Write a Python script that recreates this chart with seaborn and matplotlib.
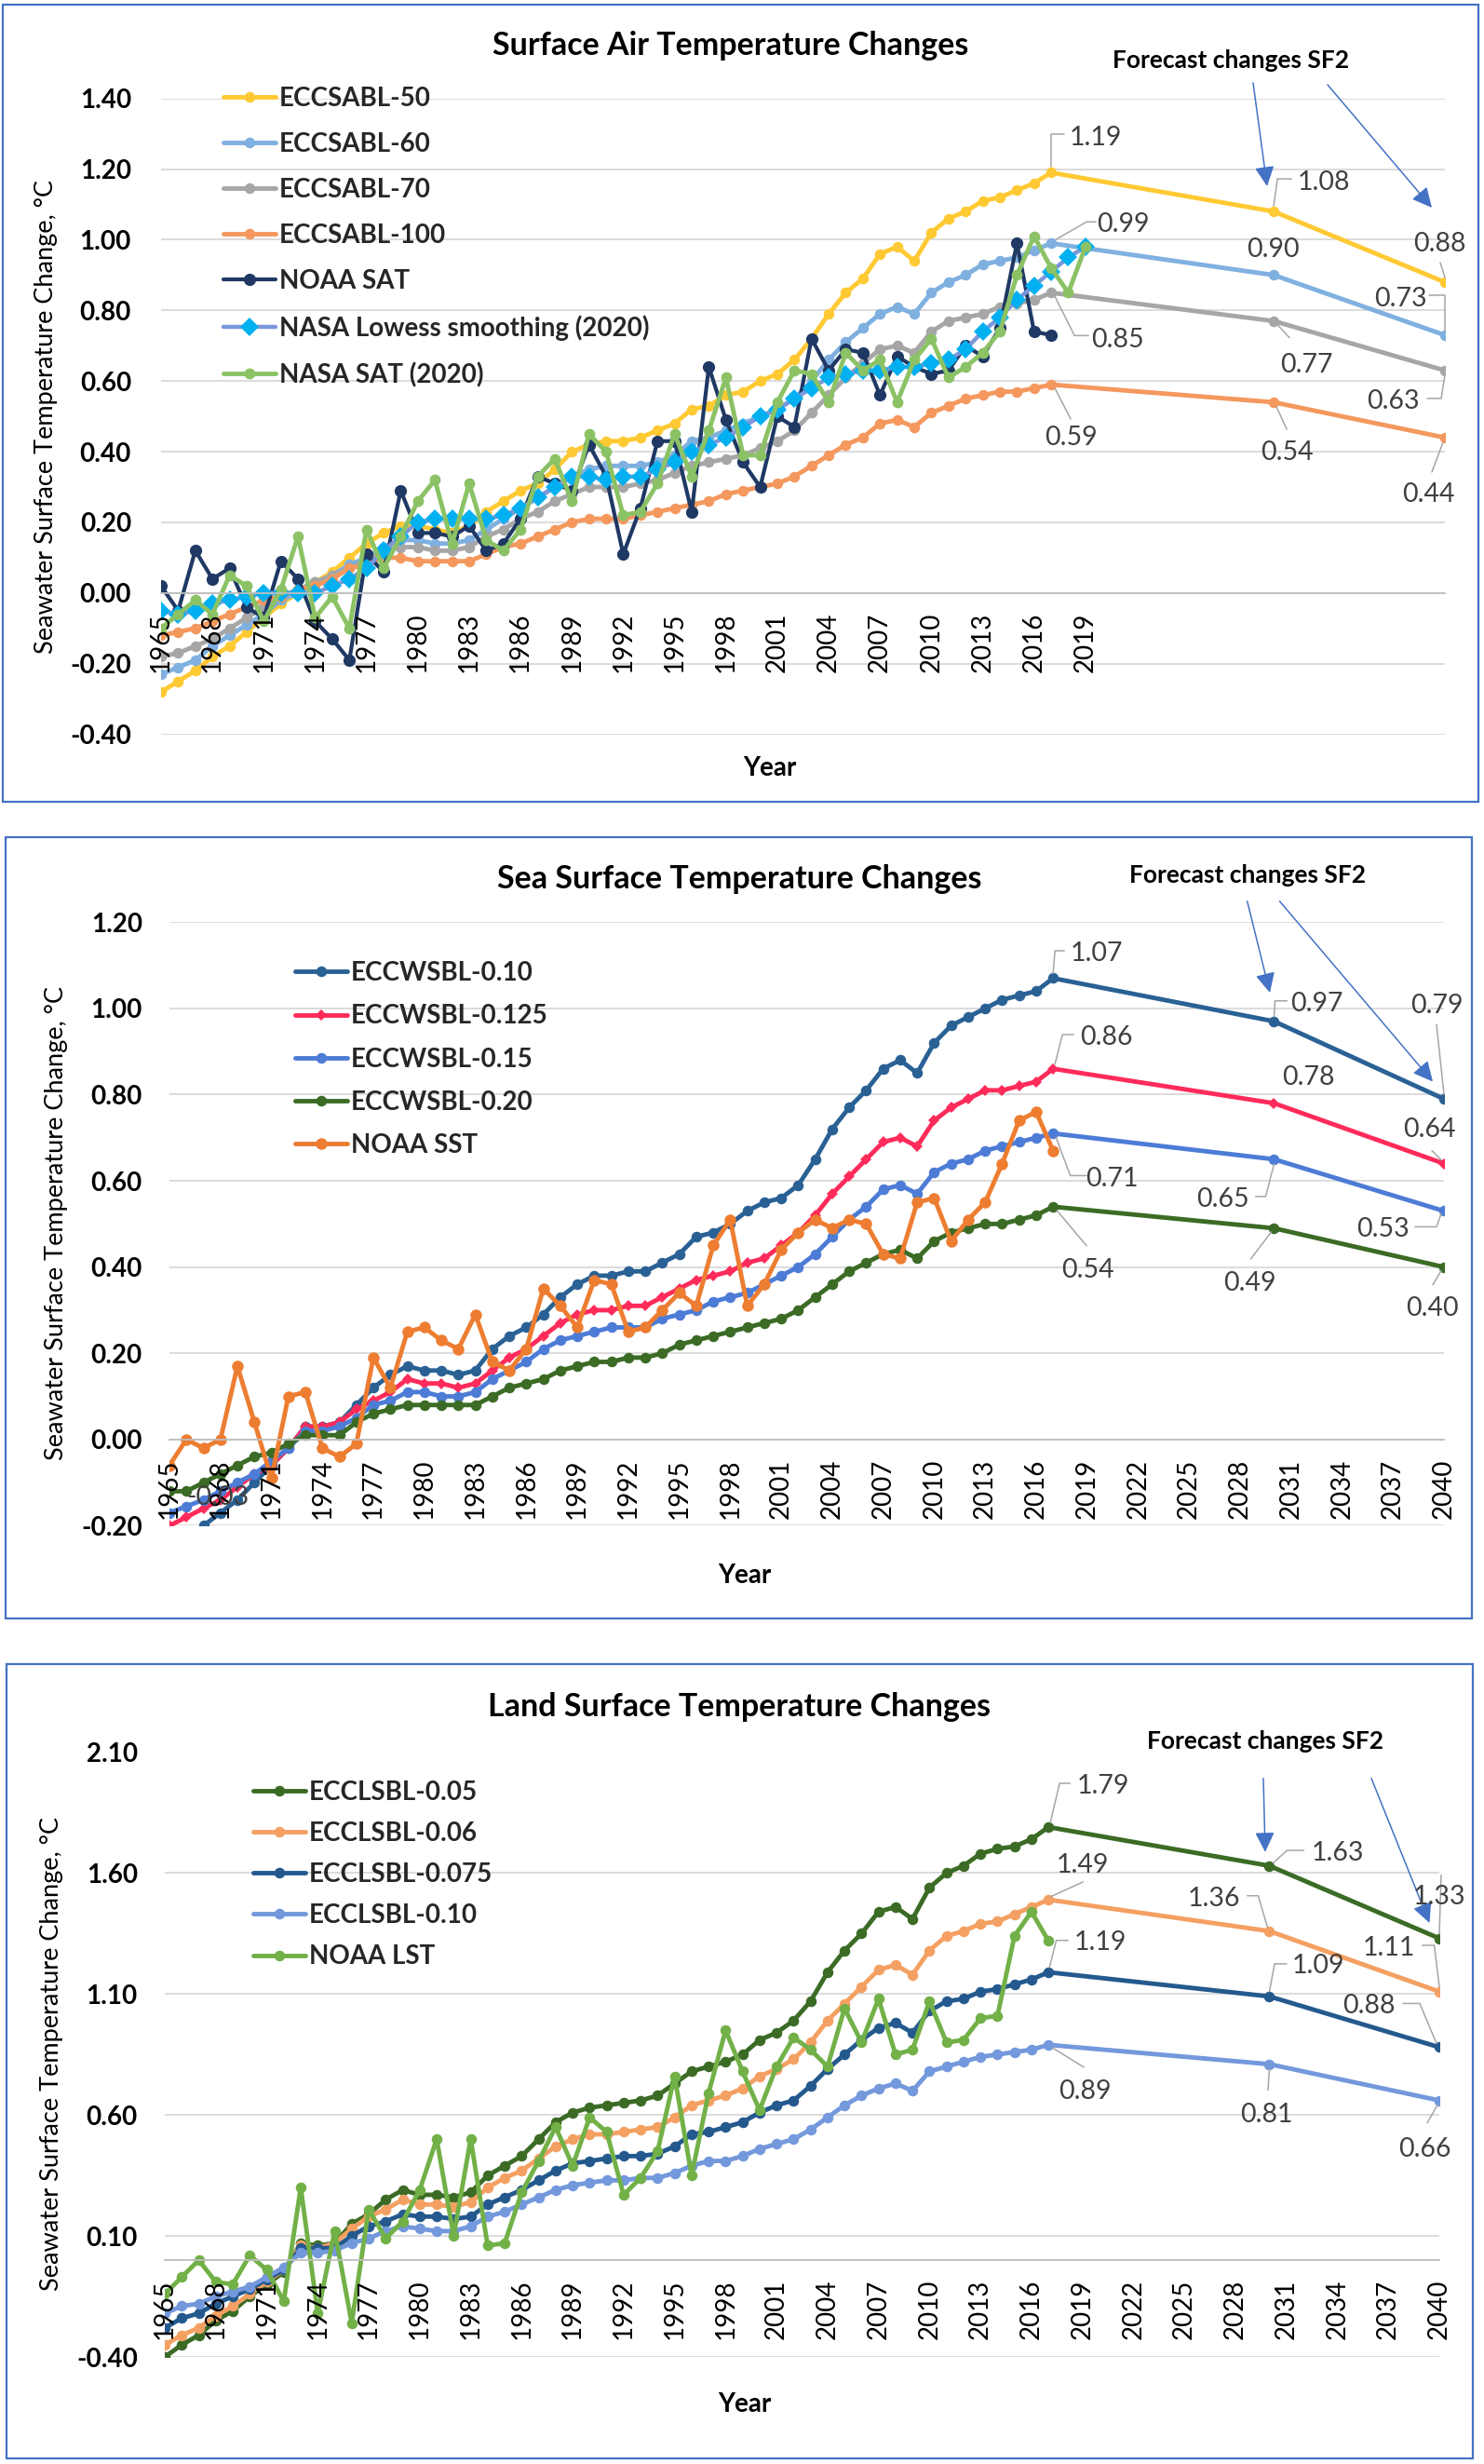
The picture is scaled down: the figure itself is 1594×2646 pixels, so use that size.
import numpy as np
import matplotlib
matplotlib.use("Agg")
import matplotlib.pyplot as plt
import seaborn as sns
from matplotlib.lines import Line2D
from matplotlib.patches import Rectangle, FancyArrowPatch

W, H = 1594, 2646
sns.set_theme(style="white")
plt.rcParams["font.family"] = ["Lato", "DejaVu Sans"]

# ------------------------------------------------------------------ data
hist_years = list(range(1965, 2018))          # 1965..2017
model_years = hist_years + [2030, 2040]
nasa_years = list(range(1965, 2020))          # 1965..2019

# --- Surface air temperature
sat_50 = [-0.28, -0.25, -0.22, -0.18, -0.15, -0.11, -0.07, -0.03, 0.00, 0.03, 0.06, 0.10, 0.14, 0.17, 0.19,
          0.19, 0.18, 0.17, 0.19, 0.23, 0.26, 0.29, 0.31, 0.35, 0.40, 0.42, 0.43, 0.43, 0.44, 0.46, 0.48, 0.52,
          0.53, 0.56, 0.57, 0.60, 0.62, 0.66, 0.72, 0.79, 0.85, 0.89, 0.96, 0.98, 0.94, 1.02, 1.06, 1.08, 1.11,
          1.12, 1.14, 1.16, 1.19, 1.08, 0.88]
sat_60 = [-0.23, -0.21, -0.19, -0.15, -0.12, -0.09, -0.06, -0.02, 0.00, 0.03, 0.05, 0.08, 0.10, 0.13, 0.15,
          0.15, 0.14, 0.14, 0.15, 0.18, 0.21, 0.24, 0.27, 0.30, 0.33, 0.35, 0.36, 0.36, 0.36, 0.37, 0.39, 0.43,
          0.44, 0.46, 0.48, 0.50, 0.52, 0.55, 0.60, 0.66, 0.71, 0.75, 0.79, 0.81, 0.79, 0.85, 0.88, 0.90, 0.93,
          0.94, 0.95, 0.97, 0.99, 0.90, 0.73]
sat_70 = [-0.18, -0.17, -0.15, -0.13, -0.10, -0.07, -0.04, -0.01, 0.01, 0.03, 0.05, 0.07, 0.09, 0.12, 0.13,
          0.13, 0.12, 0.12, 0.13, 0.16, 0.18, 0.21, 0.23, 0.26, 0.28, 0.30, 0.30, 0.30, 0.31, 0.32, 0.34, 0.36,
          0.37, 0.38, 0.39, 0.41, 0.43, 0.46, 0.51, 0.56, 0.61, 0.65, 0.69, 0.70, 0.68, 0.74, 0.77, 0.78, 0.79,
          0.81, 0.82, 0.83, 0.85, 0.77, 0.63]
sat_100 = [-0.12, -0.11, -0.10, -0.08, -0.06, -0.04, -0.02, -0.01, 0.01, 0.02, 0.04, 0.07, 0.08, 0.10, 0.10,
           0.09, 0.09, 0.09, 0.09, 0.11, 0.13, 0.14, 0.16, 0.18, 0.20, 0.21, 0.21, 0.21, 0.22, 0.23, 0.24, 0.25,
           0.26, 0.28, 0.29, 0.30, 0.31, 0.33, 0.36, 0.39, 0.42, 0.44, 0.48, 0.49, 0.47, 0.51, 0.53, 0.55, 0.56,
           0.57, 0.57, 0.58, 0.59, 0.54, 0.44]
noaa_sat = [0.02, -0.05, 0.12, 0.04, 0.07, -0.04, -0.07, 0.09, 0.04, -0.08, -0.13, -0.19, 0.11, 0.06, 0.29,
            0.17, 0.17, 0.16, 0.19, 0.12, 0.14, 0.21, 0.33, 0.31, 0.29, 0.42, 0.33, 0.11, 0.24, 0.43, 0.43, 0.23,
            0.64, 0.49, 0.37, 0.30, 0.50, 0.47, 0.72, 0.63, 0.69, 0.68, 0.56, 0.67, 0.64, 0.62, 0.63, 0.70, 0.67,
            0.75, 0.99, 0.74, 0.73]
nasa_lowess = [-0.05, -0.06, -0.05, -0.03, -0.02, -0.01, 0.00, 0.00, 0.00, 0.00, 0.02, 0.04, 0.07, 0.12, 0.16,
               0.20, 0.21, 0.21, 0.21, 0.21, 0.22, 0.24, 0.27, 0.30, 0.33, 0.33, 0.32, 0.33, 0.33, 0.35, 0.37,
               0.40, 0.42, 0.44, 0.47, 0.50, 0.52, 0.55, 0.58, 0.61, 0.62, 0.63, 0.63, 0.64, 0.64, 0.65, 0.66,
               0.69, 0.74, 0.78, 0.83, 0.87, 0.91, 0.95, 0.98]
nasa_sat = [-0.10, -0.06, -0.02, -0.06, 0.05, 0.02, -0.08, 0.01, 0.16, -0.07, -0.01, -0.10, 0.18, 0.07, 0.16,
            0.26, 0.32, 0.14, 0.31, 0.15, 0.12, 0.18, 0.33, 0.38, 0.26, 0.45, 0.40, 0.22, 0.23, 0.31, 0.45, 0.33,
            0.46, 0.61, 0.39, 0.39, 0.54, 0.63, 0.62, 0.54, 0.68, 0.63, 0.66, 0.54, 0.66, 0.72, 0.61, 0.64, 0.68,
            0.74, 0.90, 1.01, 0.92, 0.85, 0.98]

# --- Sea surface temperature
sst_010 = [-0.26, -0.23, -0.20, -0.17, -0.14, -0.10, -0.06, -0.02, 0.03, 0.03, 0.04, 0.08, 0.12, 0.15, 0.17,
           0.16, 0.16, 0.15, 0.16, 0.21, 0.24, 0.26, 0.29, 0.33, 0.36, 0.38, 0.38, 0.39, 0.39, 0.41, 0.43, 0.47,
           0.48, 0.50, 0.53, 0.55, 0.56, 0.59, 0.65, 0.72, 0.77, 0.81, 0.86, 0.88, 0.85, 0.92, 0.96, 0.98, 1.00,
           1.02, 1.03, 1.04, 1.07, 0.97, 0.79]
sst_0125 = [-0.20, -0.18, -0.16, -0.14, -0.11, -0.08, -0.06, -0.02, 0.03, 0.03, 0.04, 0.07, 0.09, 0.11, 0.14,
            0.13, 0.13, 0.12, 0.13, 0.16, 0.19, 0.21, 0.24, 0.27, 0.29, 0.30, 0.30, 0.31, 0.31, 0.33, 0.35, 0.37,
            0.38, 0.39, 0.41, 0.42, 0.45, 0.48, 0.52, 0.57, 0.61, 0.65, 0.69, 0.70, 0.68, 0.74, 0.77, 0.79, 0.81,
            0.81, 0.82, 0.83, 0.86, 0.78, 0.64]
sst_015 = [-0.17, -0.155, -0.14, -0.12, -0.10, -0.08, -0.05, -0.02, 0.02, 0.02, 0.03, 0.05, 0.08, 0.09, 0.11,
           0.11, 0.10, 0.10, 0.11, 0.14, 0.16, 0.18, 0.21, 0.23, 0.24, 0.25, 0.26, 0.26, 0.26, 0.28, 0.29, 0.30,
           0.32, 0.33, 0.34, 0.36, 0.38, 0.40, 0.43, 0.47, 0.51, 0.54, 0.58, 0.59, 0.57, 0.62, 0.64, 0.65, 0.67,
           0.68, 0.69, 0.70, 0.71, 0.65, 0.53]
sst_020 = [-0.12, -0.12, -0.10, -0.08, -0.06, -0.04, -0.03, -0.01, 0.01, 0.01, 0.01, 0.04, 0.06, 0.07, 0.08,
           0.08, 0.08, 0.08, 0.08, 0.10, 0.12, 0.13, 0.14, 0.16, 0.17, 0.18, 0.18, 0.19, 0.19, 0.20, 0.22, 0.23,
           0.24, 0.25, 0.26, 0.27, 0.28, 0.30, 0.33, 0.36, 0.39, 0.41, 0.43, 0.44, 0.42, 0.46, 0.48, 0.49, 0.50,
           0.50, 0.51, 0.52, 0.54, 0.49, 0.40]
noaa_sst = [-0.06, 0.00, -0.02, 0.00, 0.17, 0.04, -0.09, 0.10, 0.11, -0.02, -0.04, -0.01, 0.19, 0.12, 0.25,
            0.26, 0.23, 0.21, 0.29, 0.18, 0.16, 0.21, 0.35, 0.31, 0.26, 0.37, 0.36, 0.25, 0.26, 0.30, 0.34, 0.31,
            0.45, 0.51, 0.31, 0.36, 0.44, 0.48, 0.51, 0.49, 0.51, 0.50, 0.43, 0.42, 0.55, 0.56, 0.46, 0.51, 0.55,
            0.64, 0.74, 0.76, 0.67]

# --- Land surface temperature
lst_005 = [-0.40, -0.35, -0.31, -0.25, -0.21, -0.15, -0.10, -0.05, 0.07, 0.06, 0.07, 0.15, 0.19, 0.25, 0.29,
           0.27, 0.27, 0.26, 0.28, 0.35, 0.39, 0.43, 0.50, 0.57, 0.61, 0.63, 0.64, 0.65, 0.66, 0.68, 0.73, 0.78,
           0.80, 0.82, 0.85, 0.91, 0.94, 0.99, 1.07, 1.19, 1.28, 1.35, 1.44, 1.46, 1.41, 1.54, 1.60, 1.63, 1.68,
           1.70, 1.71, 1.74, 1.79, 1.63, 1.33]
lst_006 = [-0.35, -0.31, -0.28, -0.23, -0.19, -0.14, -0.09, -0.04, 0.06, 0.05, 0.07, 0.13, 0.18, 0.21, 0.25,
           0.23, 0.23, 0.22, 0.24, 0.30, 0.34, 0.37, 0.42, 0.47, 0.50, 0.52, 0.52, 0.53, 0.54, 0.55, 0.59, 0.64,
           0.66, 0.68, 0.71, 0.76, 0.79, 0.83, 0.90, 0.99, 1.06, 1.13, 1.20, 1.22, 1.18, 1.28, 1.34, 1.36, 1.39,
           1.40, 1.43, 1.46, 1.49, 1.36, 1.11]
lst_0075 = [-0.28, -0.24, -0.22, -0.18, -0.15, -0.12, -0.08, -0.04, 0.05, 0.05, 0.05, 0.10, 0.14, 0.16, 0.19,
            0.18, 0.18, 0.17, 0.18, 0.23, 0.26, 0.29, 0.33, 0.37, 0.40, 0.41, 0.42, 0.43, 0.43, 0.44, 0.47, 0.52,
            0.53, 0.55, 0.57, 0.61, 0.64, 0.66, 0.72, 0.79, 0.85, 0.91, 0.96, 0.98, 0.94, 1.03, 1.07, 1.08, 1.11,
            1.12, 1.14, 1.16, 1.19, 1.09, 0.88]
lst_010 = [-0.22, -0.19, -0.18, -0.15, -0.13, -0.11, -0.07, -0.03, 0.03, 0.03, 0.04, 0.07, 0.09, 0.12, 0.14,
           0.13, 0.12, 0.12, 0.14, 0.18, 0.20, 0.23, 0.26, 0.29, 0.31, 0.32, 0.33, 0.33, 0.34, 0.34, 0.36, 0.39,
           0.41, 0.41, 0.43, 0.46, 0.48, 0.50, 0.54, 0.59, 0.64, 0.68, 0.71, 0.73, 0.70, 0.78, 0.80, 0.82, 0.84,
           0.85, 0.86, 0.87, 0.89, 0.81, 0.66]
noaa_lst = [-0.14, -0.07, 0.00, -0.09, -0.10, 0.02, -0.04, -0.17, 0.30, -0.22, 0.12, -0.26, 0.21, 0.09, 0.16,
            0.29, 0.50, 0.10, 0.50, 0.06, 0.07, 0.28, 0.41, 0.55, 0.39, 0.59, 0.53, 0.27, 0.34, 0.45, 0.76, 0.35,
            0.69, 0.95, 0.78, 0.62, 0.80, 0.92, 0.87, 0.80, 1.04, 0.90, 1.08, 0.85, 0.87, 1.07, 0.90, 0.91, 1.00,
            1.01, 1.34, 1.44, 1.32]

# ------------------------------------------------------------------ figure
fig = plt.figure(figsize=(W / 100, H / 100), dpi=100)
fig.patch.set_facecolor("white")

TICK_FS = 20
LEG_FS = 20
LAB_FS = 20.5
BORDER = "#4472C4"
GRID = "#D9D9D9"


def add_px_axes(x0, y0, x1, y1):
    return fig.add_axes([x0 / W, 1 - y1 / H, (x1 - x0) / W, (y1 - y0) / H])


def ftext(x, y, s, **kw):
    fig.text(x / W, 1 - y / H, s, **kw)


def farrow(x0, y0, x1, y1):
    fig.add_artist(FancyArrowPatch((x0 / W, 1 - y0 / H), (x1 / W, 1 - y1 / H), transform=fig.transFigure,
                                   arrowstyle="-|>,head_length=0.65,head_width=0.32", mutation_scale=20,
                                   lw=1.1, color=BORDER, shrinkA=0, shrinkB=0))


def panel(cfg):
    x0, y0, x1, y1 = cfg["box"]
    fig.add_artist(Rectangle((x0 / W, 1 - y1 / H), (x1 - x0) / W, (y1 - y0) / H, transform=fig.transFigure,
                             fill=False, edgecolor=BORDER, lw=1.6))
    ax = add_px_axes(*cfg["plot"])
    ax.patch.set_alpha(0)
    ymin, ymax = cfg["ylim"]
    yt = cfg["yticks"]
    for t in yt:
        ax.axhline(t, color=GRID, lw=1.3, zorder=0.3)
    for s in cfg["series"]:
        kw = dict(color=s["color"], marker=s["marker"], markersize=s["ms"], linewidth=s["lw"],
                  markeredgewidth=0, label=s["label"], zorder=2)
        if "mfc" in s:
            kw["markerfacecolor"] = s["mfc"]
            kw["markeredgecolor"] = s["mfc"]
        sns.lineplot(x=s["x"], y=s["y"], ax=ax, errorbar=None, **kw)
    ax.set_xlim(1965, 2040)
    ax.set_ylim(ymin, ymax)
    ax.set_yticks(yt)
    ax.set_yticklabels([f"{t:.2f}" for t in yt])
    maj = list(range(1965, 2041, 3))
    ax.set_xticks(maj)
    ax.set_xticklabels([str(y) if y <= cfg["last_label"] else "" for y in maj])
    ax.set_xticks(list(range(1965, 2040, 2)), minor=True)
    ax.xaxis.remove_overlapping_locs = False
    ax.tick_params(axis="x", which="major", length=0, pad=15, labelsize=TICK_FS, labelrotation=90,
                   colors="black")
    ax.tick_params(axis="x", which="minor", length=7, width=1.3, color="#BFBFBF", direction="out")
    ax.tick_params(axis="y", length=0, pad=cfg["ypad"], labelsize=TICK_FS, colors="black")
    for tl in ax.get_xticklabels() + ax.get_yticklabels():
        tl.set_fontweight("bold")
    for sp in ("left", "right", "top"):
        ax.spines[sp].set_visible(False)
    ax.spines["bottom"].set_position(("data", 0))
    ax.spines["bottom"].set_color("#BFBFBF")
    ax.spines["bottom"].set_linewidth(1.3)
    ax.set_axisbelow(False)
    ax.grid(False)
    ax.set_xlabel("")
    ax.set_ylabel("")
    lx, ly, ls = cfg["legend"]
    ax.legend(loc="upper left", bbox_to_anchor=(lx / W, 1 - ly / H), bbox_transform=fig.transFigure,
              frameon=False, prop={"weight": "bold", "size": LEG_FS}, handlelength=2.0,
              handletextpad=0.15, labelspacing=ls, borderpad=0, borderaxespad=0, numpoints=1)

    # texts
    tx, ty = cfg["title_pos"]
    ftext(tx, ty, cfg["title"], ha="center", va="center", fontsize=24.5, fontweight="bold", color="black")
    yx, yy = cfg["ylabel_pos"]
    ftext(yx, yy, "Seawater Surface Temperature Change, \u00b0C", ha="center", va="center", rotation=90,
          fontsize=19.5, color="black")
    xx, xy = cfg["xlabel_pos"]
    ftext(xx, xy, "Year", ha="center", va="center", fontsize=20, fontweight="bold", color="black")
    fx_, fy_ = cfg["fc_pos"]
    ftext(fx_, fy_, "Forecast changes SF2", ha="center", va="center", fontsize=19, fontweight="bold",
          color="black")
    for a in cfg["arrows"]:
        farrow(*a)

    # data labels from the series values
    for si, yr, toff, loffs in cfg["labels"]:
        s = cfg["series"][si]
        val = s["y"][s["x"].index(yr)]
        px, py = ax.transData.transform((yr, val))
        fig.text((px + toff[0]) / W, (py - toff[1]) / H, f"{val:.2f}", ha="center", va="center_baseline",
                 fontsize=LAB_FS, color="#404040")
        if loffs:
            xs = [(px + dx) / W for dx, dy in loffs]
            ys = [(py - dy) / H for dx, dy in loffs]
            fig.add_artist(Line2D(xs, ys, transform=fig.transFigure, color="#A6A6A6", lw=1.1))
    return ax


MS = 8.3
LW = 3.5

top = dict(
    box=(3, 5, 1588, 861), plot=(173, 105.7, 1552, 788.6), ylim=(-0.40, 1.40),
    yticks=[-0.4, -0.2, 0.0, 0.2, 0.4, 0.6, 0.8, 1.0, 1.2, 1.4], ypad=23, last_label=2019,
    series=[
        dict(label="ECCSABL-50", x=model_years, y=sat_50, color="#FFC933", marker="o", ms=MS, lw=LW),
        dict(label="ECCSABL-60", x=model_years, y=sat_60, color="#7FB0E0", marker="o", ms=MS, lw=LW),
        dict(label="ECCSABL-70", x=model_years, y=sat_70, color="#A6A6A6", marker="o", ms=MS, lw=LW),
        dict(label="ECCSABL-100", x=model_years, y=sat_100, color="#F4985E", marker="o", ms=MS, lw=LW),
        dict(label="NOAA SAT", x=hist_years, y=noaa_sat, color="#1F3864", marker="o", ms=9.5, lw=3.0),
        dict(label="NASA Lowess smoothing (2020)", x=nasa_years, y=nasa_lowess, color="#7A97DA",
             marker="D", ms=10, lw=3.2, mfc="#00B0F0"),
        dict(label="NASA SAT (2020)", x=nasa_years, y=nasa_sat, color="#8BC265", marker="o", ms=8.5, lw=LW),
    ],
    legend=(240, 93, 0.83),
    title="Surface Air Temperature Changes", title_pos=(785, 49),
    ylabel_pos=(50, 447), xlabel_pos=(827, 825), fc_pos=(1322, 65),
    arrows=[(1346, 89, 1361, 200), (1426, 91, 1538, 223)],
    labels=[
        (0, 2017, (48, -40), [(0, -6), (0, -41), (14, -41)]),
        (0, 2030, (54, -33.6), [(0, -6), (4, -35), (19, -35)]),
        (0, 2040, (-6, -43), [(0, -5), (-5, -21)]),
        (1, 2017, (77, -23), [(5, -4), (38, -23), (48, -23)]),
        (1, 2030, (-1, -30), []),
        (1, 2040, (-48, -41), [(0, -5), (0, -43), (-17, -43)]),
        (2, 2017, (71, 48), [(4, 4), (25, 46), (40, 46)]),
        (2, 2030, (35, 45), [(4, 4), (17, 18)]),
        (2, 2040, (-55.5, 31), [(0, 5), (-4, 30), (-19, 30)]),
        (3, 2017, (21, 54), [(4, 4), (21, 37)]),
        (3, 2030, (14, 51.5), [(3, 5), (14, 29)]),
        (3, 2040, (-18, 58.6), [(-2, 5), (-14, 37)]),
    ],
)

mid = dict(
    box=(6, 899, 1581, 1738), plot=(182, 990.3, 1551, 1638.4), ylim=(-0.20, 1.20),
    yticks=[-0.2, 0.0, 0.2, 0.4, 0.6, 0.8, 1.0, 1.2], ypad=21, last_label=2040,
    series=[
        dict(label="ECCWSBL-0.10", x=model_years, y=sst_010, color="#2A6195", marker="o", ms=MS, lw=LW),
        dict(label="ECCWSBL-0.125", x=model_years, y=sst_0125, color="#FF2B5A", marker="D", ms=6, lw=LW),
        dict(label="ECCWSBL-0.15", x=model_years, y=sst_015, color="#4D7CD6", marker="o", ms=MS, lw=LW),
        dict(label="ECCWSBL-0.20", x=model_years, y=sst_020, color="#3B6B25", marker="o", ms=MS, lw=LW),
        dict(label="NOAA SST", x=hist_years, y=noaa_sst, color="#ED7D31", marker="o", ms=9, lw=LW),
    ],
    legend=(317, 1032, 0.73),
    title="Sea Surface Temperature Changes", title_pos=(794, 944),
    ylabel_pos=(61, 1314), xlabel_pos=(800, 1692), fc_pos=(1340, 940),
    arrows=[(1339.7, 967.8, 1364, 1066), (1374.5, 967.8, 1539, 1161.5)],
    labels=[
        (0, 2017, (47, -28.5), [(0, -5), (2, -29.5), (12, -29.5)]),
        (0, 2030, (46, -21), [(0, -5), (1, -22), (14, -22)]),
        (0, 2040, (-8, -103), [(0, -5), (-8, -80)]),
        (1, 2017, (57.4, -35.7), [(2, -5), (10, -36.7), (22, -36.7)]),
        (1, 2030, (37, -30), []),
        (1, 2040, (-15.6, -38.8), [(-3, -4), (-13, -14)]),
        (2, 2017, (63, 46.4), [(3, 4), (18.5, 45.3), (36, 45.3)]),
        (2, 2030, (-54.7, 41), [(0, 5), (-9, 40), (-20, 40)]),
        (2, 2040, (-66, 17), [(-3, 3), (-8, 17), (-31, 17)]),
        (3, 2017, (37, 66), [(4, 4), (36, 42)]),
        (3, 2030, (-26.4, 57), [(-3, 4), (-25, 33)]),
        (3, 2040, (-13, 42), [(-3, 4), (-12, 19)]),
        (3, 1971, (-57.5, 46), []),
    ],
)

bot = dict(
    box=(7, 1787, 1582, 2640), plot=(177, 1881.5, 1546, 2531), ylim=(-0.40, 2.10),
    yticks=[-0.4, 0.1, 0.6, 1.1, 1.6, 2.1], ypad=21, last_label=2040,
    series=[
        dict(label="ECCLSBL-0.05", x=model_years, y=lst_005, color="#3B6B25", marker="o", ms=MS, lw=LW),
        dict(label="ECCLSBL-0.06", x=model_years, y=lst_006, color="#F4A062", marker="o", ms=MS, lw=LW),
        dict(label="ECCLSBL-0.075", x=model_years, y=lst_0075, color="#24598E", marker="o", ms=MS, lw=LW),
        dict(label="ECCLSBL-0.10", x=model_years, y=lst_010, color="#7398DC", marker="o", ms=MS, lw=LW),
        dict(label="NOAA LST", x=hist_years, y=noaa_lst, color="#72B048", marker="o", ms=MS, lw=LW),
    ],
    legend=(272, 1912, 0.65),
    title="Land Surface Temperature Changes", title_pos=(793.5, 1833),
    ylabel_pos=(56, 2205), xlabel_pos=(800, 2582), fc_pos=(1359, 1870),
    arrows=[(1357, 1909.7, 1359, 1988.8), (1473, 1909.7, 1535.5, 2065)],
    labels=[
        (0, 2017, (59, -46.6), [(2, -5), (12, -47), (23, -47)]),
        (0, 2030, (73.4, -16.6), [(4, -3), (19, -16.6), (37, -16.6)]),
        (0, 2040, (0, -47.5), [(0, -5), (2, -68)]),
        (1, 2017, (37, -39), [(2, -3), (37, -19)]),
        (1, 2030, (-59.4, -36.8), [(-2, -4), (-12, -38), (-23.7, -38)]),
        (1, 2040, (-54, -49.7), [(0, -5), (-5.4, -49.7), (-18.3, -49.7)]),
        (2, 2017, (55.8, -34.2), [(1, -5), (8.4, -34.2), (21, -34.2)]),
        (2, 2030, (52.6, -35), [(0, -5), (5.6, -35), (18.6, -35)]),
        (2, 2040, (-75.4, -47), [(-3, -4), (-21, -47), (-39, -47)]),
        (3, 2017, (38.8, 48), [(4, 3), (38, 24)]),
        (3, 2030, (-3, 52), [(0, 5), (-1.5, 28)]),
        (3, 2040, (-16, 49.4), [(-2, 5), (-13, 24)]),
    ],
)

for cfg in (top, mid, bot):
    panel(cfg)

fig.savefig("out.png", dpi=100, facecolor="white")
